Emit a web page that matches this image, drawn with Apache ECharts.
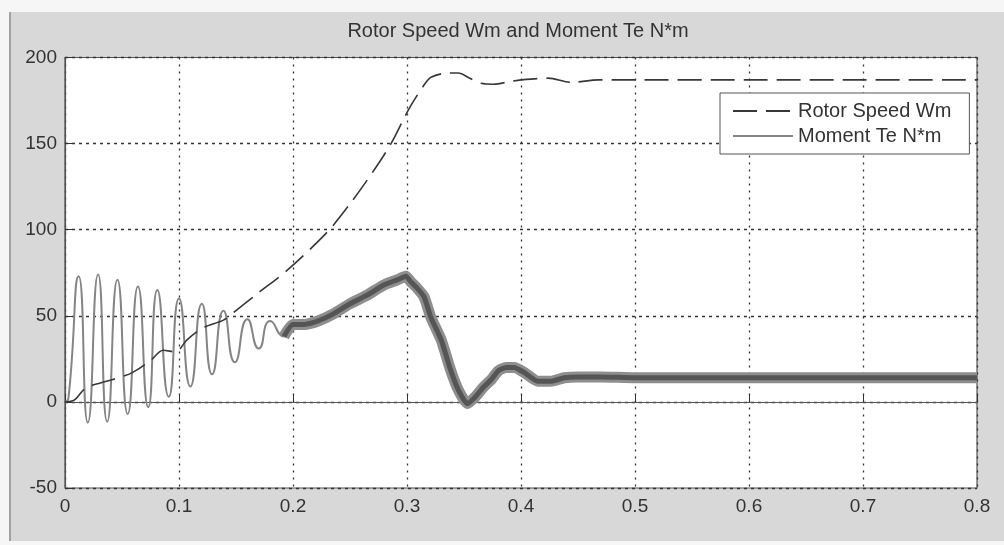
<!DOCTYPE html>
<html>
<head>
<meta charset="utf-8">
<script src="https://cdn.jsdelivr.net/npm/echarts@6/dist/echarts.min.js"></script>
<style>
  html, body { margin: 0; padding: 0; background: #f6f6f6; }
  #wrap { position: relative; width: 1004px; height: 545px; overflow: hidden; background: #f6f6f6; }
  #panel { position: absolute; left: 9px; top: 12px; width: 995px; height: 529px; background: #d8d8d8; border-left: 2px solid #a2a2a2; }
  #chart { position: absolute; left: 0; top: 0; width: 1004px; height: 545px; }
</style>
</head>
<body>
<div id="wrap">
  <div id="panel"></div>
  <div id="chart"></div>
</div>
<script>
// ---- data ----
var titleText = 'Rotor Speed Wm and Moment Te N*m';
var seriesNames = ['Rotor Speed Wm', 'Moment Te N*m'];
var xTicks = [0, 0.1, 0.2, 0.3, 0.4, 0.5, 0.6, 0.7, 0.8];
var yTicks = [-50, 0, 50, 100, 150, 200];

var speedTime = [0, 0.008, 0.018, 0.031, 0.042, 0.059, 0.075, 0.086, 0.097, 0.107, 0.121, 0.139, 0.148, 0.170, 0.195, 0.230, 0.250, 0.271, 0.286, 0.302, 0.315, 0.321, 0.336, 0.345, 0.355, 0.365, 0.376, 0.390, 0.400, 0.424, 0.444, 0.468, 0.500, 0.600, 0.700, 0.800];
var speed     = [0, 1, 8, 11, 13, 17, 24, 30, 29, 36, 43, 47.5, 52, 63.5, 76.5, 98.6, 115, 134.5, 150, 170.5, 184, 188.5, 191, 191, 188, 185, 184.5, 186, 187, 188, 185.6, 187, 187, 187, 187, 187];

var torqueTime = [0, 0.003, 0.012, 0.020, 0.029, 0.037, 0.046, 0.055, 0.064, 0.073, 0.081, 0.091, 0.100, 0.110, 0.120, 0.129, 0.139, 0.149, 0.160, 0.170, 0.180, 0.192, 0.200, 0.210, 0.222, 0.235, 0.250, 0.265, 0.280, 0.292, 0.299, 0.303, 0.309, 0.315, 0.321, 0.330, 0.338, 0.345, 0.353, 0.360, 0.367, 0.374, 0.380, 0.387, 0.394, 0.403, 0.415, 0.426, 0.438, 0.450, 0.470, 0.500, 0.550, 0.600, 0.650, 0.700, 0.750, 0.800];
var torque     = [0, 2, 73, -12, 74, -11.5, 71, -7, 67, -3, 65, 3, 60, 9, 57, 16, 53, 23, 48, 31, 47, 38, 45, 45, 47, 51, 57, 62, 68, 71, 73, 70, 66, 61, 49, 36, 19, 7, -1, 3, 8.5, 13, 18, 20, 20, 17, 12, 12, 14, 14.5, 14.5, 14, 14, 14, 14, 14, 14, 14];
var rippleStart = 0.192; // torque shows a thick high-frequency ripple band from here on

function zip(a, b) { return a.map(function (v, i) { return [v, b[i]]; }); }
var speedData = zip(speedTime, speed);
var torqueData = zip(torqueTime, torque);
var bandData = torqueData.filter(function (p) { return p[0] >= rippleStart; });

var FONT = 'Liberation Sans, Arial, sans-serif';
var chart = echarts.init(document.getElementById('chart'), null, { renderer: 'canvas' });
chart.setOption({
  animation: false,
  backgroundColor: 'transparent',
  title: {
    text: titleText,
    left: 518, top: 21, textAlign: 'center', padding: 0,
    textStyle: { fontFamily: FONT, fontSize: 20, fontWeight: 'normal', color: '#333' }
  },
  legend: {
    data: seriesNames,
    orient: 'vertical',
    left: 720, top: 93,
    padding: [8, 18, 8, 12],
    itemGap: 5,
    itemWidth: 60, itemHeight: 14,
    backgroundColor: '#ffffff',
    borderColor: '#555', borderWidth: 1,
    itemStyle: { opacity: 0 },
    textStyle: { fontFamily: FONT, fontSize: 20, color: '#333' }
  },
  grid: {
    left: 65, right: 27, top: 57.5, bottom: 57,
    show: true, backgroundColor: '#ffffff', borderColor: '#555', borderWidth: 1.2
  },
  xAxis: {
    type: 'value', min: xTicks[0], max: xTicks[xTicks.length - 1], interval: 0.1,
    axisLine: { show: true, lineStyle: { color: '#555', width: 1.2 } },
    axisTick: { show: true, inside: true, length: 7, lineStyle: { color: '#333' } },
    axisLabel: {
      margin: 9, fontFamily: FONT, fontSize: 19, color: '#333',
      formatter: function (v) { return String(+v.toFixed(1)); }
    },
    splitLine: { show: true, lineStyle: { color: '#333', width: 1.3, type: [2, 5] } }
  },
  yAxis: {
    type: 'value', min: yTicks[0], max: yTicks[yTicks.length - 1], interval: 50,
    axisLine: { show: true, lineStyle: { color: '#555', width: 1.2 } },
    axisTick: { show: true, inside: true, length: 7, lineStyle: { color: '#333' } },
    axisLabel: { margin: 8, fontFamily: FONT, fontSize: 19, color: '#333' },
    splitLine: { show: true, lineStyle: { color: '#333', width: 1.3, type: [3, 4] } }
  },
  series: [
    {
      name: seriesNames[0], type: 'line', data: speedData,
      symbol: 'none', showSymbol: false, smooth: 0.3, z: 5,
      lineStyle: { color: '#383838', width: 1.6, type: [24, 9] },
      itemStyle: { color: '#383838' }
    },
    {
      name: seriesNames[1], type: 'line', data: torqueData,
      symbol: 'none', showSymbol: false, smooth: 0.6, z: 3,
      lineStyle: { color: '#858585', width: 2 },
      itemStyle: { color: '#858585' }
    },
    {
      name: 'band-outer', type: 'line', data: bandData,
      symbol: 'none', showSymbol: false, smooth: 0.2, z: 3,
      lineStyle: { color: '#8e8e8e', width: 11, cap: 'butt' }, silent: true
    },
    {
      name: 'band-inner', type: 'line', data: bandData,
      symbol: 'none', showSymbol: false, smooth: 0.2, z: 4,
      lineStyle: { color: '#555555', width: 5, cap: 'butt' }, silent: true
    }
  ]
});
</script>
</body>
</html>
